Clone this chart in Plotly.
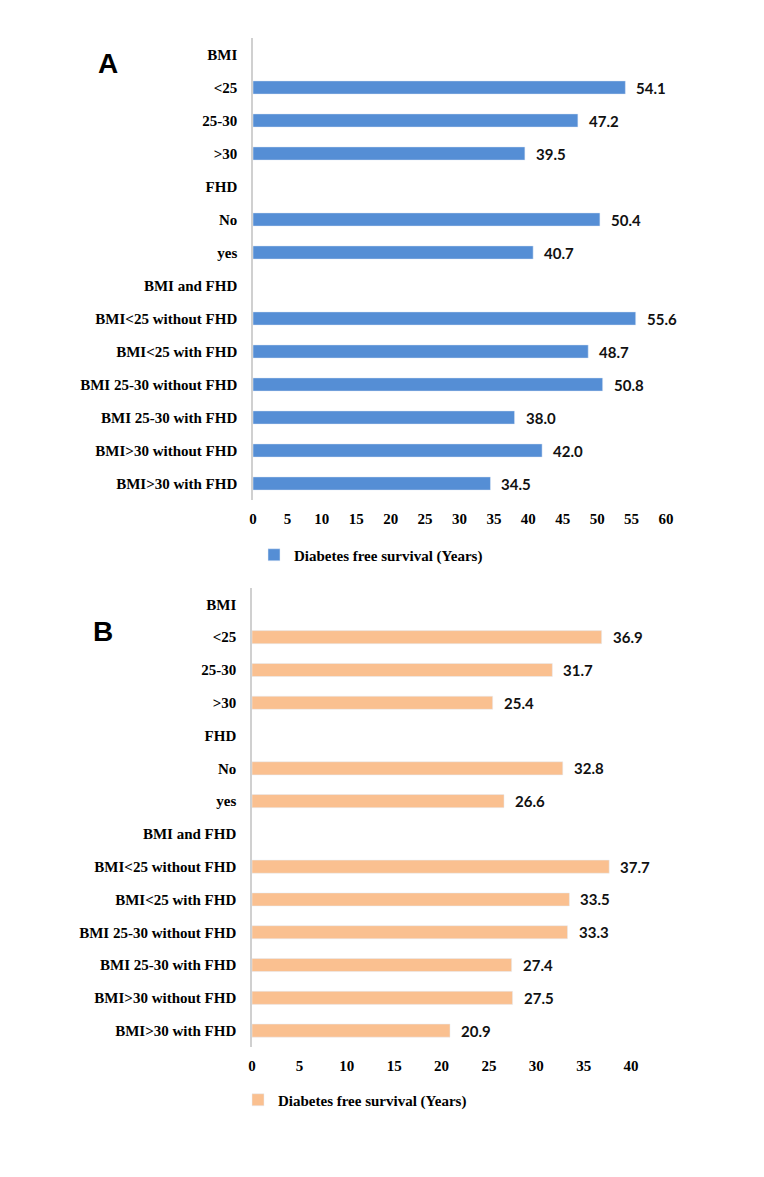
import plotly.graph_objects as go

categories = ["BMI", "<25", "25-30", ">30", "FHD", "No", "yes", "BMI and FHD",
              "BMI<25 without FHD", "BMI<25 with FHD", "BMI 25-30 without FHD",
              "BMI 25-30 with FHD", "BMI>30 without FHD", "BMI>30 with FHD"]
values_a = [None, 54.1, 47.2, 39.5, None, 50.4, 40.7, None, 55.6, 48.7, 50.8, 38.0, 42.0, 34.5]
values_b = [None, 36.9, 31.7, 25.4, None, 32.8, 26.6, None, 37.7, 33.5, 33.3, 27.4, 27.5, 20.9]
series_name = "Diabetes free survival (Years)"
ticks_a = [0, 5, 10, 15, 20, 25, 30, 35, 40, 45, 50, 55, 60]
ticks_b = [0, 5, 10, 15, 20, 25, 30, 35, 40]

W, H = 764, 1177
BLUE = "#558ED5"
ORANGE = "#FAC090"
serif = "Liberation Serif"
sans = "Lato"

def px(v):  # pixel y from top -> paper
    return 1 - v / H

fig = go.Figure()
fig.add_trace(go.Bar(y=categories, x=values_a, orientation="h", marker_color=BLUE,
                     name=series_name, xaxis="x", yaxis="y", legend="legend",
                     hoverinfo="x+y"))
fig.add_trace(go.Bar(y=categories, x=values_b, orientation="h", marker_color=ORANGE,
                     name=series_name, xaxis="x2", yaxis="y2", legend="legend2",
                     hoverinfo="x+y"))

label_font = dict(family=sans, size=15, color="#111111", weight="bold")
annotations = []
for cat, v in zip(categories, values_a):
    if v is not None:
        annotations.append(dict(x=v, y=cat, xref="x", yref="y", text=f"{v:.1f}",
                                showarrow=False, xanchor="left", xshift=9, font=label_font))
for cat, v in zip(categories, values_b):
    if v is not None:
        annotations.append(dict(x=v, y=cat, xref="x2", yref="y2", text=f"{v:.1f}",
                                showarrow=False, xanchor="left", xshift=9, font=label_font))
annotations.append(dict(x=108 / W, y=px(64), xref="paper", yref="paper", text="<b>A</b>",
                        xanchor="center", yanchor="middle", showarrow=False,
                        font=dict(family="Liberation Sans", size=28, color="black")))
annotations.append(dict(x=103 / W, y=px(631), xref="paper", yref="paper", text="<b>B</b>",
                        xanchor="center", yanchor="middle", showarrow=False,
                        font=dict(family="Liberation Sans", size=28, color="black")))

tickfont = dict(family=serif, size=15, color="black", weight="bold")
ncat = len(categories)

fig.update_layout(
    width=W, height=H, margin=dict(l=0, r=0, t=0, b=0, pad=0, autoexpand=False),
    autosize=False,
    paper_bgcolor="white", plot_bgcolor="white",
    bargap=0.6, showlegend=True,
    annotations=annotations,
    xaxis=dict(domain=[253 / W, 666 / W], range=[0, 60], autorange=False, tickvals=ticks_a,
               showgrid=False, zeroline=False, showline=False, tickfont=tickfont,
               ticks="", ticklen=0, ticklabelstandoff=8, anchor="y"),
    yaxis=dict(domain=[px(500), px(38)], type="category", categoryorder="array",
               categoryarray=categories, range=[ncat - 0.5, -0.5], showgrid=False,
               showline=True, linecolor="#d0d0d0", linewidth=1.5, zeroline=False,
               tickfont=tickfont, ticks="", ticklen=0, ticklabelstandoff=11, anchor="x"),
    xaxis2=dict(domain=[252 / W, 631 / W], range=[0, 40], autorange=False, tickvals=ticks_b,
                showgrid=False, zeroline=False, showline=False, tickfont=tickfont,
                ticks="", ticklen=0, ticklabelstandoff=8, anchor="y2"),
    yaxis2=dict(domain=[px(1047), px(588)], type="category", categoryorder="array",
                categoryarray=categories, range=[ncat - 0.5, -0.5], showgrid=False,
                showline=True, linecolor="#d0d0d0", linewidth=1.5, zeroline=False,
                tickfont=tickfont, ticks="", ticklen=0, ticklabelstandoff=11, anchor="x2"),
    legend=dict(x=254 / W, y=px(555), xanchor="left", yanchor="middle",
                font=dict(family=serif, size=15, color="black", weight="bold"),
                bgcolor="rgba(0,0,0,0)"),
    legend2=dict(x=238 / W, y=px(1100), xanchor="left", yanchor="middle",
                 font=dict(family=serif, size=15, color="black", weight="bold"),
                 bgcolor="rgba(0,0,0,0)"),
)

fig.write_html("out.html", config={"displayModeBar": False, "responsive": False},
               post_script="document.body.style.margin='0';document.body.style.overflow='hidden';")
